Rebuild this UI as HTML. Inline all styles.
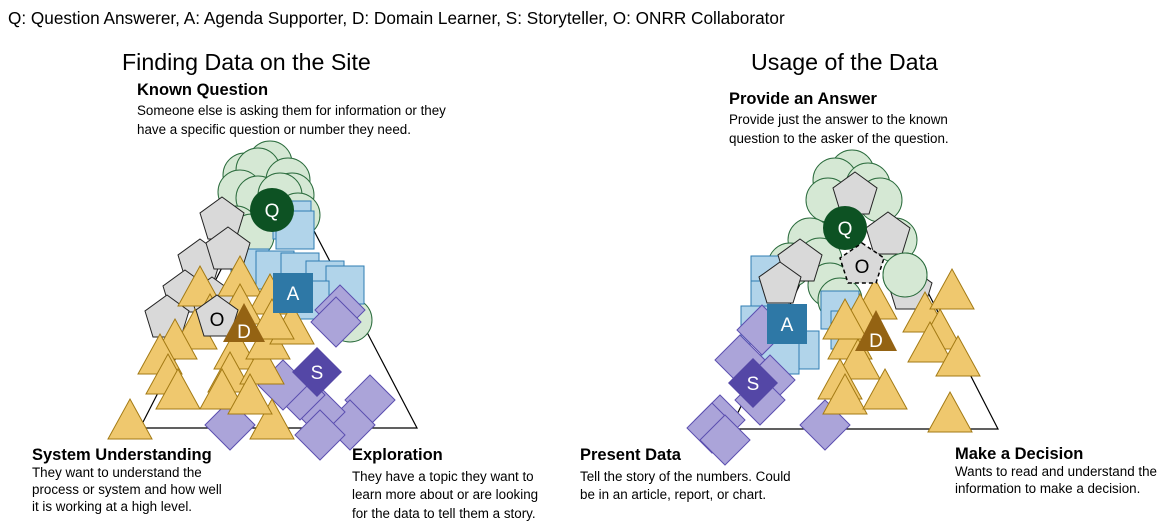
<!DOCTYPE html>
<html><head><meta charset="utf-8"><style>
body{margin:0;background:#fff;width:1176px;height:532px;overflow:hidden;font-family:"Liberation Sans",Arial,sans-serif}
svg{position:absolute;left:0;top:0}
</style></head><body>
<svg width="1176" height="532" viewBox="0 0 1176 532" font-family="Liberation Sans, Arial, sans-serif">
<defs>
<circle id="c" r="22" fill="#d5e8d4" stroke="#2a6b3c" stroke-width="1"/>
<rect id="s" x="-19" y="-19" width="38" height="38" fill="#b1d4ea" stroke="#2e7db3" stroke-width="1"/>
<polygon id="p" points="0,-23 22,-7 14,19 -14,19 -22,-7" fill="#d9d9d9" stroke="#222" stroke-width="1"/>
<polygon id="t" points="0,-26 22,14 -22,14" fill="#efc86e" stroke="#a37a14" stroke-width="1"/>
<polygon id="d" points="0,-25 25,0 0,25 -25,0" fill="#aba4d9" stroke="#5b4fb0" stroke-width="1"/>
</defs>
<text x="8" y="24" font-size="17.2">Q: Question Answerer, A: Agenda Supporter, D: Domain Learner, S: Storyteller, O: ONRR Collaborator</text>
<text x="122" y="70" font-size="23.2">Finding Data on the Site</text>
<text x="751" y="70" font-size="23.2">Usage of the Data</text>
<text x="137" y="95" font-size="16.5" font-weight="bold">Known Question</text>
<text x="137" y="115" font-size="13.4">Someone else is asking them for information or they</text>
<text x="137" y="134" font-size="13.4">have a specific question or number they need.</text>
<text x="729" y="104" font-size="16.5" font-weight="bold">Provide an Answer</text>
<text x="729" y="124" font-size="13.4">Provide just the answer to the known</text>
<text x="729" y="143" font-size="13.4">question to the asker of the question.</text>
<text x="32" y="460" font-size="16.5" font-weight="bold">System Understanding</text>
<text x="32" y="477" font-size="13.4">They want to understand the</text>
<text x="32" y="494" font-size="13.4">process or system and how well</text>
<text x="32" y="511" font-size="13.4">it is working at a high level.</text>
<text x="352" y="460" font-size="16.5" font-weight="bold">Exploration</text>
<text x="352" y="481" font-size="13.4">They have a topic they want to</text>
<text x="352" y="499" font-size="13.4">learn more about or are looking</text>
<text x="352" y="518" font-size="13.4">for the data to tell them a story.</text>
<text x="580" y="460" font-size="16.5" font-weight="bold">Present Data</text>
<text x="580" y="481" font-size="13.4">Tell the story of the numbers.  Could</text>
<text x="580" y="499" font-size="13.4">be in an article, report, or chart.</text>
<text x="955" y="459" font-size="16.5" font-weight="bold">Make a Decision</text>
<text x="955" y="476" font-size="13.4">Wants to read and understand the</text>
<text x="955" y="493" font-size="13.4">information to make a decision.</text>

<polygon points="277,160 417,428 140,428" fill="none" stroke="#000" stroke-width="1.2"/>
<polygon points="860,160 998,429 730,429" fill="none" stroke="#000" stroke-width="1.2"/>

<!-- LEFT -->
<g>
<use href="#c" x="270" y="163"/><use href="#c" x="245" y="175"/><use href="#c" x="258" y="170"/><use href="#c" x="288" y="180"/><use href="#c" x="292" y="195"/><use href="#c" x="240" y="192"/><use href="#c" x="258" y="198"/><use href="#c" x="280" y="195"/><use href="#c" x="298" y="215"/><use href="#c" x="236" y="228"/><use href="#c" x="252" y="236"/><use href="#c" x="350" y="320"/>
<use href="#s" x="292" y="220"/><use href="#s" x="295" y="230"/><use href="#s" x="250" y="268"/><use href="#s" x="275" y="270"/><use href="#s" x="300" y="272"/><use href="#s" x="325" y="280"/><use href="#s" x="345" y="285"/><use href="#s" x="310" y="300"/>
<use href="#p" x="222" y="220"/><use href="#p" x="200" y="262"/><use href="#p" x="228" y="250"/><use href="#p" x="185" y="293"/><use href="#p" x="167" y="318"/><use href="#p" x="212" y="300"/>
<use href="#d" x="340" y="310"/><use href="#d" x="336" y="322"/><use href="#d" x="370" y="400"/><use href="#d" x="350" y="425"/><use href="#d" x="320" y="412"/><use href="#d" x="300" y="395"/><use href="#d" x="283" y="385"/><use href="#d" x="230" y="425"/><use href="#d" x="320" y="435"/>
<use href="#t" x="200" y="292"/><use href="#t" x="240" y="282"/><use href="#t" x="270" y="300"/><use href="#t" x="240" y="310"/><use href="#t" x="210" y="320"/><use href="#t" x="195" y="335"/><use href="#t" x="175" y="345"/><use href="#t" x="160" y="360"/><use href="#t" x="168" y="380"/><use href="#t" x="178" y="395"/><use href="#t" x="236" y="355"/><use href="#t" x="230" y="378"/><use href="#t" x="222" y="395"/><use href="#t" x="262" y="370"/><use href="#t" x="268" y="345"/><use href="#t" x="292" y="330"/><use href="#t" x="272" y="325"/><use href="#t" x="130" y="425"/><use href="#t" x="272" y="425"/><use href="#t" x="250" y="400"/>
<circle cx="272" cy="210" r="22" fill="#0d5223"/><text x="272" y="217" font-size="19" fill="#fff" text-anchor="middle">Q</text>
<rect x="273" y="273" width="40" height="40" fill="#2e78a6"/><text x="293" y="300" font-size="19" fill="#fff" text-anchor="middle">A</text>
<polygon points="217,295 238,310 230,336 204,336 196,310" fill="#d9d9d9" stroke="#222"/><text x="217" y="326" font-size="19" text-anchor="middle">O</text>
<polygon points="244,303 265,342 223,342" fill="#946313"/><text x="244" y="338" font-size="19" fill="#fff" text-anchor="middle">D</text>
<polygon points="317,347 342,372 317,397 292,372" fill="#5447a6"/><text x="317" y="379" font-size="19" fill="#fff" text-anchor="middle">S</text>
</g>

<!-- RIGHT -->
<g>
<use href="#c" x="852" y="172"/><use href="#c" x="835" y="180"/><use href="#c" x="868" y="185"/><use href="#c" x="828" y="200"/><use href="#c" x="880" y="200"/><use href="#c" x="895" y="240"/><use href="#c" x="810" y="240"/><use href="#c" x="820" y="260"/><use href="#c" x="830" y="285"/><use href="#c" x="840" y="300"/><use href="#c" x="905" y="275"/><use href="#c" x="790" y="265"/>
<use href="#s" x="770" y="275"/><use href="#s" x="770" y="300"/><use href="#s" x="760" y="325"/><use href="#s" x="840" y="310"/><use href="#s" x="850" y="330"/><use href="#s" x="800" y="350"/><use href="#s" x="780" y="355"/>
<use href="#p" x="855" y="195"/><use href="#p" x="888" y="235"/><use href="#p" x="800" y="262"/><use href="#p" x="910" y="290"/>
<use href="#d" x="762" y="330"/><use href="#d" x="740" y="360"/><use href="#d" x="770" y="380"/><use href="#d" x="760" y="400"/><use href="#d" x="720" y="420"/><use href="#d" x="712" y="428"/><use href="#d" x="725" y="440"/><use href="#d" x="825" y="425"/>
<polygon points="780,262 801,277 793,303 767,303 759,277" fill="#d9d9d9" stroke="#222"/>
<use href="#t" x="875" y="305"/><use href="#t" x="860" y="320"/><use href="#t" x="850" y="345"/><use href="#t" x="858" y="365"/><use href="#t" x="840" y="385"/><use href="#t" x="845" y="400"/><use href="#t" x="885" y="395"/><use href="#t" x="925" y="318"/><use href="#t" x="952" y="295"/><use href="#t" x="940" y="335"/><use href="#t" x="930" y="348"/><use href="#t" x="958" y="362"/><use href="#t" x="950" y="418"/><use href="#t" x="845" y="325"/>
<circle cx="845" cy="228" r="22" fill="#0d5223"/><text x="845" y="235" font-size="19" fill="#fff" text-anchor="middle">Q</text>
<polygon points="862,243 884,258 876,283 848,283 840,258" fill="#d9d9d9" stroke="#000" stroke-dasharray="4,3" stroke-width="1.5"/><text x="862" y="273" font-size="19" text-anchor="middle">O</text>
<use href="#c" x="905" y="275"/>
<rect x="767" y="304" width="40" height="40" fill="#2e78a6"/><text x="787" y="331" font-size="19" fill="#fff" text-anchor="middle">A</text>
<polygon points="876,310 897,351 855,351" fill="#946313"/><text x="876" y="347" font-size="19" fill="#fff" text-anchor="middle">D</text>
<polygon points="753,358 778,383 753,408 728,383" fill="#5447a6"/><text x="753" y="390" font-size="19" fill="#fff" text-anchor="middle">S</text>
</g>
</svg>
</body></html>
